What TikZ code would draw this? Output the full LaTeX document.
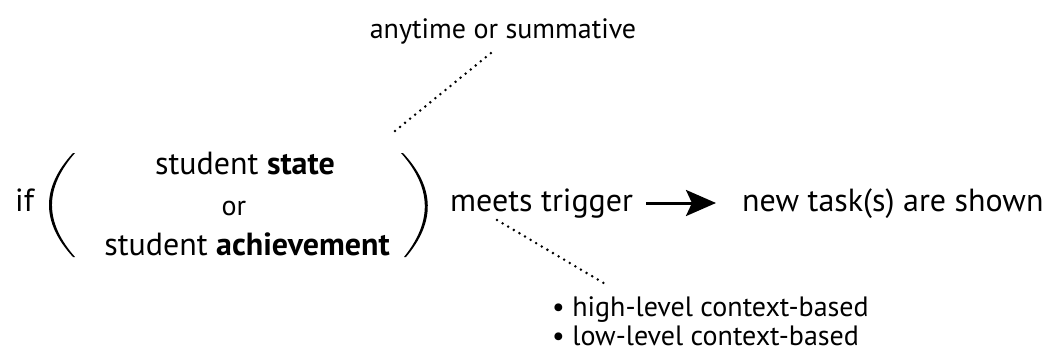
\documentclass[tikz,border=0pt]{standalone}
\usepackage{fontspec}
\setmainfont{PT Sans}
\usetikzlibrary{arrows.meta}
\begin{document}
\begin{tikzpicture}[x=1pt,y=-1pt,
  lbl/.style={inner sep=0pt,font=\fontsize{32}{36}\selectfont},
  small/.style={inner sep=0pt,font=\fontsize{28}{32}\selectfont},
  hint/.style={line width=2.8pt,line cap=round,dash pattern=on 0pt off 6.5pt}]
\useasboundingbox (0,0) rectangle (1044,351);
% condition block
\node[lbl,anchor=base west] (if) at (15,211) {if};
\node[lbl,anchor=base] (state) at (245,174) {student \textbf{state}};
\node[small,anchor=base] (or) at (234,215) {or};
\node[lbl,anchor=base] (ach) at (247,255) {student \textbf{achievement}};
% big parentheses, drawn as filled crescents
\fill (73,153) .. controls (41,188) and (41,222) .. (73,257)
      -- (75,257) .. controls (44.3,222) and (44.3,188) .. (75,153) -- cycle;
\fill (403,153) .. controls (435.5,188) and (435.5,222) .. (406,257)
      -- (404,257) .. controls (432.2,222) and (432.2,188) .. (401,153) -- cycle;
% trigger and result
\node[lbl,anchor=base west] (trig) at (450,211) {meets trigger};
\node[lbl,anchor=base west] (task) at (742,211) {new task(s) are shown};
\coordinate (a0) at (646,203);
\coordinate (a1) at (716,203);
\draw[line width=3pt,-{Stealth[length=30pt,width=26pt,inset=6pt]}] (a0) -- (a1);
% annotations
\node[small,anchor=base] (when) at (503,38) {anytime or summative};
\coordinate (w0) at (395,131);
\coordinate (w1) at (491,53);
\draw[hint] (w0) -- (w1);
\node[small,anchor=base west] (hi) at (552,316) {\textbullet\ high-level context-based};
\node[small,anchor=base west] (lo) at (552,345) {\textbullet\ low-level context-based};
\coordinate (t0) at (497,220);
\coordinate (t1) at (607,285);
\draw[hint] (t0) -- (t1);
\end{tikzpicture}
\end{document}
